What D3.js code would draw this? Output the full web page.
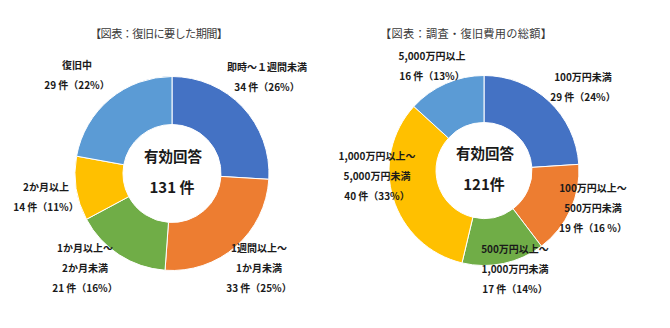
<!DOCTYPE html>
<html>
<head>
<meta charset="utf-8">
<script src="https://cdn.jsdelivr.net/npm/d3@7"></script>
<style>
  html, body { margin: 0; padding: 0; background: #fff; }
  svg { display: block; }
  text { font-family: "Noto Sans CJK JP", "Noto Sans", sans-serif; }
</style>
</head>
<body>
<svg id="chart" width="670" height="328"></svg>
<script>
// ---- data: period needed for recovery ----
const periodCategories = ["即時～１週間未満", "1週間以上～1か月未満", "1か月以上～2か月未満", "2か月以上", "復旧中"];
const periodCounts = [34, 33, 21, 14, 29];
const periodPercents = [26, 25, 16, 11, 22];
const periodLabelLines = [
  ["即時～１週間未満", "34 件（26%）"],
  ["1週間以上～", "1か月未満", "33 件（25%）"],
  ["1か月以上～", "2か月未満", "21 件（16%）"],
  ["2か月以上", "14 件（11%）"],
  ["復旧中", "29 件（22%）"]
];
const periodTotal = "131 件";

// ---- data: total cost of investigation and recovery ----
const costCategories = ["100万円未満", "100万円以上～500万円未満", "500万円以上～1,000万円未満", "1,000万円以上～5,000万円未満", "5,000万円以上"];
const costCounts = [29, 19, 17, 40, 16];
const costPercents = [24, 16, 14, 33, 13];
const costLabelLines = [
  ["100万円未満", "29 件（24%）"],
  ["100万円以上～", "500万円未満", "19 件（16 %）"],
  ["500万円以上～", "1,000万円未満", "17 件（14%）"],
  ["1,000万円以上～", "5,000万円未満", "40 件（33%）"],
  ["5,000万円以上", "16 件（13%）"]
];
const costTotal = "121件";

const sliceColors = ["#4472C4", "#ED7D31", "#70AD47", "#FFC000", "#5B9BD5"];

// ---- layout ----
const charts = [
  {
    title: "【図表：復旧に要した期間】", titleX: 159, titleW: 138,
    cx: 172, cy: 173.5, r: 97, ir: 49,
    counts: periodCounts, lines: periodLabelLines, total: periodTotal,
    // anchor of first label line for each slice
    labelPos: [[267, 68], [259, 249], [85, 249], [46, 188], [77, 66]]
  },
  {
    title: "【図表：調査・復旧費用の総額】", titleX: 466, titleW: 172,
    cx: 484, cy: 170.5, r: 95, ir: 48,
    counts: costCounts, lines: costLabelLines, total: costTotal,
    labelPos: [[583, 78], [593, 189], [515, 250], [377, 157], [432, 57]]
  }
];

const svg = d3.select("#chart");
const pie = d3.pie().sort(null).value(d => d);
const lineGap = 20;

charts.forEach(c => {
  const g = svg.append("g");

  g.append("text")
    .attr("x", c.titleX).attr("y", 35)
    .attr("text-anchor", "middle").attr("dominant-baseline", "middle")
    .attr("font-size", 11.2).attr("fill", "#3a3a3a")
    .attr("textLength", c.titleW).attr("lengthAdjust", "spacing")
    .text(c.title);

  const arc = d3.arc().innerRadius(c.ir).outerRadius(c.r);
  g.append("g")
    .attr("transform", `translate(${c.cx},${c.cy})`)
    .selectAll("path")
    .data(pie(c.counts))
    .join("path")
    .attr("d", arc)
    .attr("fill", (d, i) => sliceColors[i])
    .attr("stroke", "#fff")
    .attr("stroke-width", 1);

  // centre text
  g.append("text")
    .attr("x", c.cx + 1).attr("y", c.cy - 15)
    .attr("text-anchor", "middle").attr("dominant-baseline", "middle")
    .attr("font-size", 14.5).attr("font-weight", "bold").attr("fill", "#1a1a1a")
    .text("有効回答");
  g.append("text")
    .attr("x", c.cx).attr("y", c.cy + 15)
    .attr("text-anchor", "middle").attr("dominant-baseline", "middle")
    .attr("font-size", 15).attr("font-weight", "bold").attr("fill", "#1a1a1a")
    .text(c.total);

  // data labels
  c.lines.forEach((lines, i) => {
    const [lx, ly] = c.labelPos[i];
    lines.forEach((t, k) => {
      g.append("text")
        .attr("x", lx).attr("y", ly + k * lineGap)
        .attr("text-anchor", "middle").attr("dominant-baseline", "middle")
        .attr("font-size", 10).attr("font-weight", "bold").attr("fill", "#1a1a1a")
        .text(t);
    });
  });
});
</script>
</body>
</html>
